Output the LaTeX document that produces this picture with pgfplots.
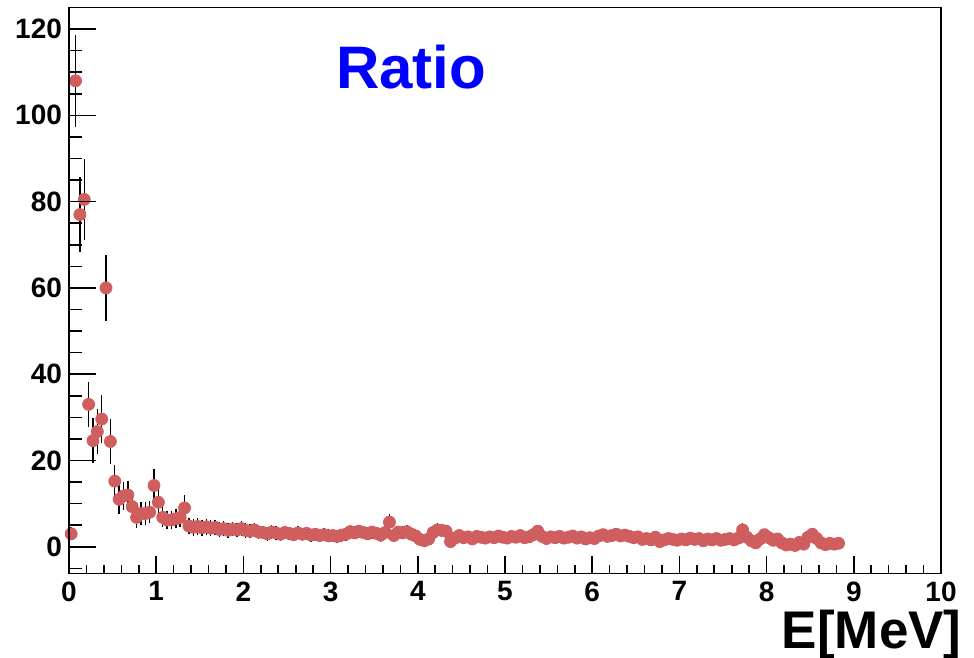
\documentclass[border=0pt]{standalone}
\usepackage{pgfplots}
\pgfplotsset{compat=1.18}
\usepackage{pgfplotstable}
\usepackage{fontspec}
\setmainfont{Liberation Sans}
\definecolor{markred}{RGB}{209,94,94}
\definecolor{titleblue}{RGB}{0,0,255}

\pgfplotstableread{
x y e
0.025 3.0 1.5
0.075 108 10.7
0.125 77 8.7
0.175 80.5 9.3
0.225 33 5.3
0.275 24.6 5.2
0.325 26.7 5.2
0.375 29.6 5.6
0.425 60 7.7
0.475 24.4 5.2
0.525 15.2 3.8
0.575 11.0 3.5
0.625 11.8 3.3
0.675 12.0 3.3
0.725 9.3 3.0
0.775 6.8 2.5
0.825 7.7 2.6
0.875 7.7 2.6
0.925 8.0 2.6
0.975 14.2 3.9
1.025 10.3 3.0
1.075 6.8 2.3
1.125 6.2 2.2
1.175 6.2 2.2
1.225 6.5 2.2
1.275 6.8 2.2
1.325 9.0 3.0
1.375 4.8 1.9
1.425 4.5 1.9
1.475 4.7 1.9
1.525 4.4 1.8
1.575 4.6 1.8
1.625 4.3 1.8
1.675 4.5 1.8
1.725 4.0 1.8
1.775 4.2 1.8
1.825 3.8 1.7
1.875 4.1 1.7
1.925 3.9 1.7
1.975 4.2 1.7
2.025 3.8 1.7
2.075 3.6 1.6
2.125 3.9 1.6
2.175 3.4 1.6
2.225 3.3 1.6
2.275 3.0 1.6
2.325 3.4 1.6
2.375 3.2 1.6
2.425 2.9 1.5
2.475 3.3 1.5
2.525 3.1 1.5
2.575 2.8 1.5
2.625 3.2 1.5
2.675 2.9 1.5
2.725 3.1 1.5
2.775 2.7 1.5
2.825 2.9 1.5
2.875 2.6 1.5
2.925 2.8 1.5
2.975 2.5 1.5
3.025 2.6 1.5
3.075 2.4 1.5
3.125 2.7 1.5
3.175 2.9 1.5
3.225 3.5 1.5
3.275 3.2 1.5
3.325 3.6 1.5
3.375 3.3 1.5
3.425 3.0 1.5
3.475 3.4 1.5
3.525 3.1 1.5
3.575 2.7 1.5
3.625 3.3 1.5
3.675 5.7 2.0
3.725 2.6 1.5
3.775 3.4 1.5
3.825 3.2 1.5
3.875 3.5 1.5
3.925 2.9 1.5
3.975 2.5 1.5
4.025 1.7 1.4
4.075 1.4 1.4
4.125 1.8 1.4
4.175 3.3 1.5
4.225 3.9 1.5
4.275 3.8 1.5
4.325 3.6 1.5
4.375 1.2 1.4
4.425 2.0 1.4
4.475 2.6 1.4
4.525 2.1 1.4
4.575 2.3 1.4
4.625 1.8 1.4
4.675 2.4 1.4
4.725 2.2 1.4
4.775 2.0 1.4
4.825 2.3 1.4
4.875 2.1 1.4
4.925 2.5 1.4
4.975 2.2 1.4
5.025 2.0 1.4
5.075 2.4 1.4
5.125 2.2 1.4
5.175 2.6 1.4
5.225 2.1 1.4
5.275 2.3 1.4
5.325 2.8 1.4
5.375 3.6 1.5
5.425 2.4 1.4
5.475 1.9 1.4
5.525 2.3 1.4
5.575 2.1 1.4
5.625 2.4 1.4
5.675 2.0 1.4
5.725 2.2 1.4
5.775 2.5 1.4
5.825 2.0 1.4
5.875 2.3 1.4
5.925 1.8 1.4
5.975 2.1 1.4
6.025 1.9 1.4
6.075 2.5 1.4
6.125 2.8 1.4
6.175 2.4 1.4
6.225 2.6 1.4
6.275 2.9 1.4
6.325 2.5 1.4
6.375 2.7 1.4
6.425 2.4 1.4
6.475 2.1 1.4
6.525 2.3 1.4
6.575 1.7 1.4
6.625 1.9 1.4
6.675 1.6 1.4
6.725 2.2 1.4
6.775 1.2 1.4
6.825 1.6 1.4
6.875 1.9 1.4
6.925 1.7 1.4
6.975 1.5 1.4
7.025 1.8 1.4
7.075 1.6 1.4
7.125 2.0 1.4
7.175 1.7 1.4
7.225 1.9 1.4
7.275 1.4 1.4
7.325 1.8 1.4
7.375 1.6 1.4
7.425 1.9 1.4
7.475 1.5 1.4
7.525 1.7 1.4
7.575 1.9 1.4
7.625 1.6 1.4
7.675 2.0 1.4
7.725 3.9 1.5
7.775 2.2 1.4
7.825 1.4 1.4
7.875 0.9 1.4
7.925 1.8 1.4
7.975 2.8 1.4
8.025 2.1 1.4
8.075 1.5 1.4
8.125 1.8 1.4
8.175 0.9 1.4
8.225 0.4 1.4
8.275 0.6 1.4
8.325 0.3 1.4
8.375 1.0 1.4
8.425 0.6 1.4
8.475 2.2 1.4
8.525 2.9 1.4
8.575 1.9 1.4
8.625 0.9 1.4
8.675 0.5 1.4
8.725 0.8 1.4
8.775 0.6 1.4
8.825 0.8 1.4
}\ratiodata

\begin{document}
\begin{tikzpicture}
\useasboundingbox (0,0) rectangle (487pt,329pt);
\pgfplotsset{
  rootaxis/.style={
    at={(34.5pt,42.25pt)}, anchor=south west,
    scale only axis, width=436pt, height=283pt,
    xmin=0, xmax=10, ymin=-6.2, ymax=125,
    axis line style={line width=0.8pt},
    every tick/.style={black, line width=0.8pt},
    tick align=inside,
    /pgf/number format/assume math mode=true,
    ticklabel style={font=\bfseries\fontsize{14}{14}\selectfont},
  }
}
\begin{axis}[rootaxis,
  xtick={0,1,...,10}, minor x tick num=4, xtick pos=bottom,
  major tick length=8.5pt, minor tick length=4pt,
  xticklabel style={inner sep=0.5pt, yshift=-3.3pt},
  ytick=\empty,
]
\addplot[only marks, mark=*, mark size=3pt,
  mark options={fill=markred, draw=markred},
  error bars/.cd, y dir=both, y explicit,
  error bar style={black, line width=0.7pt}, error mark=none]
  table[x=x, y=y, y error=e] {\ratiodata};
\end{axis}
\begin{axis}[rootaxis,
  xtick=\empty,
  ytick={0,20,...,120},
  minor ytick={-5,5,10,15,25,30,35,45,50,55,65,70,75,85,90,95,105,110,115},
  ytick pos=left,
  major tick length=13.5pt, minor tick length=6.5pt,
]
\end{axis}
\node[anchor=base, text=titleblue, font=\bfseries\fontsize{30}{30}\selectfont] at (205.5pt,284.5pt) {Ratio};
\node[anchor=base east, inner sep=0pt, font=\bfseries\fontsize{26.5}{26.5}\selectfont] at (481pt,4.8pt) {E[MeV]};
\end{tikzpicture}
\end{document}
